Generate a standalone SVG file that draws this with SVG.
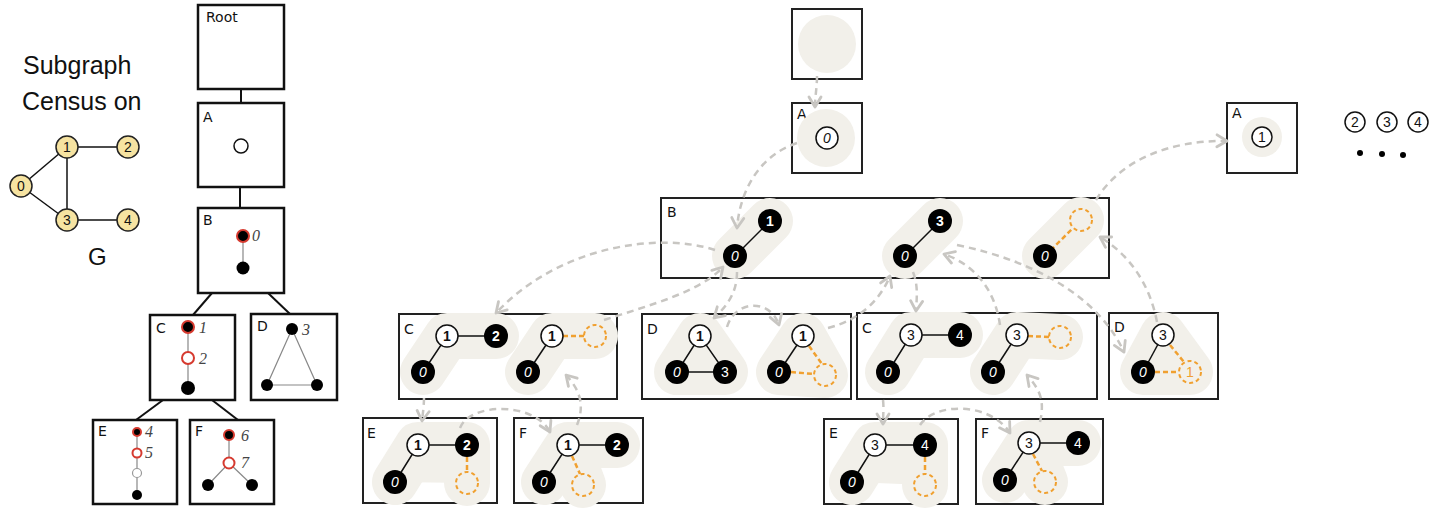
<svg xmlns="http://www.w3.org/2000/svg" width="1435" height="512" viewBox="0 0 1435 512">
<style>
.hand{font-family:"Liberation Sans",sans-serif;fill:#111}
.tbox{fill:#fff;stroke:#111;stroke-width:2.5}
.box{fill:none;stroke:#222;stroke-width:2}
.tline{stroke:#111;stroke-width:2;fill:none}
.gline{stroke:#888;stroke-width:1.2;fill:none}
.blob{fill:#f2f0ea;stroke:#f2f0ea;stroke-width:46;stroke-linecap:round;stroke-linejoin:round}
.edge{stroke:#111;stroke-width:1.5;fill:none}
.oedge{stroke:#f0a030;stroke-width:2.5;stroke-dasharray:5 3;fill:none}
.hn{fill:#fff;stroke:#111;stroke-width:1.5}
.bn{fill:#000}
.on{fill:#f2f0ea;stroke:#f0a030;stroke-width:2;stroke-dasharray:4 3}
.nl{font-family:"Liberation Sans",sans-serif;font-size:14px;font-weight:bold;text-anchor:middle;fill:#111}
.w{fill:#fff}
.it{font-style:italic;font-weight:normal}
.th{font-weight:normal}
.lbl{font-family:"DejaVu Sans","Liberation Sans",sans-serif;font-size:14px;fill:#111}
.ital{font-family:"Liberation Serif",serif;font-style:italic;font-size:16px;fill:#444}
.yn{fill:#f6e3a1;stroke:#222;stroke-width:1.5}
.rb{fill:#000;stroke:#d63a2f;stroke-width:2}
.rh{fill:#fff;stroke:#d63a2f;stroke-width:2}
.conn{fill:none;stroke:#c8c6c2;stroke-width:2.5;stroke-dasharray:7 5;marker-end:url(#ah)}
</style>
<defs>
<marker id="ah" viewBox="0 0 16 16" refX="13" refY="8" markerWidth="16" markerHeight="16" markerUnits="userSpaceOnUse" orient="auto">
<path d="M3,2 L13,8 L3,14" fill="none" stroke="#c8c6c2" stroke-width="2.8" stroke-linecap="round" stroke-linejoin="round"/>
</marker>
</defs>
<rect width="1435" height="512" fill="#fff"/>

<!-- Left: graph G -->
<g id="title">
<text class="hand" x="23" y="74" font-size="25">Subgraph</text>
<text class="hand" x="22" y="110" font-size="25">Census on</text>
</g>
<g id="graphG">
<line class="edge" x1="21" y1="186" x2="67" y2="147"/>
<line class="edge" x1="21" y1="186" x2="67" y2="220"/>
<line class="edge" x1="67" y1="147" x2="67" y2="220"/>
<line class="edge" x1="67" y1="147" x2="128" y2="147"/>
<line class="edge" x1="67" y1="220" x2="128" y2="220"/>
<circle class="yn" cx="21" cy="186" r="11"/><text class="nl th" x="21" y="191">0</text>
<circle class="yn" cx="67" cy="147" r="11"/><text class="nl th" x="67" y="152">1</text>
<circle class="yn" cx="128" cy="147" r="11"/><text class="nl th" x="128" y="152">2</text>
<circle class="yn" cx="67" cy="220" r="11"/><text class="nl th" x="67" y="225">3</text>
<circle class="yn" cx="128" cy="220" r="11"/><text class="nl th" x="128" y="225">4</text>
<text class="hand" x="88" y="265" font-size="24">G</text>
</g>

<!-- Tree -->
<g id="tree-links">
<line class="tline" x1="241" y1="89" x2="241" y2="103"/>
<line class="tline" x1="240" y1="187" x2="240" y2="208"/>
<line class="tline" x1="212" y1="293" x2="193" y2="315"/>
<line class="tline" x1="268" y1="293" x2="290" y2="314"/>
<line class="tline" x1="163" y1="400" x2="136" y2="420"/>
<line class="tline" x1="212" y1="400" x2="238" y2="420"/>
</g>
<g id="t-root"><rect class="tbox" x="198" y="5" width="86" height="84"/><text class="lbl" x="206" y="22" font-size="11">Root</text></g>
<g id="t-A"><rect class="tbox" x="198" y="103" width="86" height="84"/><text class="lbl" x="203" y="122">A</text><circle cx="241" cy="146" r="7" fill="#fff" stroke="#111" stroke-width="1.5"/></g>
<g id="t-B"><rect class="tbox" x="198" y="208" width="86" height="85"/><text class="lbl" x="203" y="225">B</text>
<line class="gline" x1="243" y1="236" x2="243" y2="268"/>
<circle class="rb" cx="243" cy="236" r="6"/><circle class="bn" cx="243" cy="268" r="6.5"/>
<text class="ital" x="252" y="241">0</text></g>
<g id="t-C"><rect class="tbox" x="150" y="315" width="85" height="85"/><text class="lbl" x="156" y="333">C</text>
<line class="gline" x1="188" y1="327" x2="188" y2="388"/>
<circle class="rb" cx="188" cy="327" r="6"/><circle class="rh" cx="188" cy="358" r="6"/><circle class="bn" cx="188" cy="388" r="7"/>
<text class="ital" x="199" y="333">1</text><text class="ital" x="199" y="364">2</text></g>
<g id="t-D"><rect class="tbox" x="251" y="314" width="86" height="86"/><text class="lbl" x="257" y="331">D</text>
<polygon points="292,329 267,385 317,385" fill="none" stroke="#888" stroke-width="1.2"/>
<circle class="bn" cx="292" cy="329" r="6"/><circle class="bn" cx="267" cy="385" r="6"/><circle class="bn" cx="317" cy="385" r="6"/>
<text class="ital" x="302" y="335">3</text></g>
<g id="t-E"><rect class="tbox" x="93" y="420" width="84" height="84"/><text class="lbl" x="98" y="436">E</text>
<line class="gline" x1="137" y1="432" x2="137" y2="495"/>
<circle class="rb" cx="137" cy="432" r="4"/><circle class="rh" cx="137" cy="453" r="4.5"/><circle cx="137" cy="473" r="4.5" fill="#fff" stroke="#999" stroke-width="1.2"/><circle class="bn" cx="137" cy="495" r="5"/>
<text class="ital" x="145" y="437" font-size="13">4</text><text class="ital" x="145" y="458" font-size="13">5</text></g>
<g id="t-F"><rect class="tbox" x="190" y="420" width="84" height="84"/><text class="lbl" x="195" y="436">F</text>
<polyline class="gline" points="229,435 229,463 208,485"/><line class="gline" x1="229" y1="463" x2="252" y2="485"/>
<circle class="rb" cx="229" cy="435" r="5"/><circle class="rh" cx="229" cy="463" r="5.5"/><circle class="bn" cx="208" cy="485" r="6"/><circle class="bn" cx="252" cy="485" r="6"/>
<text class="ital" x="241" y="441">6</text><text class="ital" x="241" y="468">7</text></g>

<!-- Right: enumeration -->
<g id="r-root"><rect class="box" x="792" y="9" width="70" height="70"/><circle cx="827" cy="44" r="29" fill="#f2f0ea"/></g>
<g id="r-A0"><rect class="box" x="792" y="103" width="70" height="70"/><text class="lbl" x="797" y="119" font-size="13">A</text>
<circle cx="826" cy="138" r="29" fill="#f2f0ea"/><circle class="hn" cx="827" cy="138" r="11"/><text class="nl it" x="827" y="143">0</text></g>

<g id="r-B"><rect class="box" x="661" y="198" width="448" height="80"/><text class="lbl" x="667" y="217" font-size="15">B</text>
<line class="blob" x1="735" y1="256" x2="770" y2="221"/>
<line class="edge" x1="735" y1="256" x2="770" y2="221"/>
<circle class="bn" cx="735" cy="256" r="12"/><text class="nl w it" x="735" y="261">0</text>
<circle class="bn" cx="770" cy="221" r="12"/><text class="nl w" x="770" y="226">1</text>
<line class="blob" x1="905" y1="256" x2="940" y2="221"/>
<line class="edge" x1="905" y1="256" x2="940" y2="221"/>
<circle class="bn" cx="905" cy="256" r="12"/><text class="nl w it" x="905" y="261">0</text>
<circle class="bn" cx="940" cy="221" r="12"/><text class="nl w" x="940" y="226">3</text>
<line class="blob" x1="1045" y1="256" x2="1081" y2="220"/>
<line class="oedge" x1="1045" y1="256" x2="1073" y2="228"/>
<circle class="bn" cx="1045" cy="256" r="12"/><text class="nl w it" x="1045" y="261">0</text>
<circle class="on" cx="1081" cy="220" r="11"/>
</g>

<g id="r-C1"><rect class="box" x="399" y="314" width="218" height="85"/><text class="lbl" x="404" y="334" font-size="17">C</text>
<polyline class="blob" points="423,372 447,336 496,336"/>
<polyline class="blob" points="528,372 552,336 595,336"/>
<polyline class="edge" points="423,372 447,336 496,336"/>
<line class="edge" x1="528" y1="372" x2="552" y2="336"/>
<line class="oedge" x1="563" y1="336" x2="584" y2="336"/>
<circle class="hn" cx="447" cy="336" r="11"/><text class="nl" x="447" y="341">1</text>
<circle class="bn" cx="496" cy="336" r="12"/><text class="nl w" x="496" y="341">2</text>
<circle class="bn" cx="423" cy="372" r="12"/><text class="nl w it" x="423" y="377">0</text>
<circle class="hn" cx="552" cy="336" r="11"/><text class="nl" x="552" y="341">1</text>
<circle class="on" cx="595" cy="336" r="11"/>
<circle class="bn" cx="528" cy="372" r="12"/><text class="nl w it" x="528" y="377">0</text>
</g>

<g id="r-D1"><rect class="box" x="642" y="314" width="209" height="85"/><text class="lbl" x="647" y="334" font-size="17">D</text>
<polygon class="blob" points="700,336 677,372 725,372"/>
<polygon class="blob" points="803,336 779,372 825,375"/>
<polygon class="edge" points="700,336 677,372 725,372"/>
<line class="edge" x1="779" y1="372" x2="803" y2="336"/>
<polyline class="oedge" points="809,346 822,364"/>
<line class="oedge" x1="791" y1="372" x2="814" y2="374"/>
<circle class="hn" cx="700" cy="336" r="11"/><text class="nl" x="700" y="341">1</text>
<circle class="bn" cx="677" cy="372" r="12"/><text class="nl w it" x="677" y="377">0</text>
<circle class="bn" cx="725" cy="372" r="12"/><text class="nl w th" x="725" y="377">3</text>
<circle class="hn" cx="803" cy="336" r="11"/><text class="nl" x="803" y="341">1</text>
<circle class="bn" cx="779" cy="372" r="12"/><text class="nl w it" x="779" y="377">0</text>
<circle class="on" cx="825" cy="375" r="11"/>
</g>

<g id="r-C3"><rect class="box" x="857" y="313" width="240" height="86"/><text class="lbl" x="862" y="333" font-size="17">C</text>
<polyline class="blob" points="888,372 911,335 960,335"/>
<polyline class="blob" points="993,372 1017,335 1060,337"/>
<polyline class="edge" points="888,372 911,335 960,335"/>
<line class="edge" x1="993" y1="372" x2="1017" y2="335"/>
<line class="oedge" x1="1028" y1="336" x2="1049" y2="337"/>
<circle class="hn" cx="911" cy="335" r="11"/><text class="nl th" x="911" y="340">3</text>
<circle class="bn" cx="960" cy="335" r="12"/><text class="nl w th" x="960" y="340">4</text>
<circle class="bn" cx="888" cy="372" r="12"/><text class="nl w it" x="888" y="377">0</text>
<circle class="hn" cx="1017" cy="335" r="11"/><text class="nl th" x="1017" y="340">3</text>
<circle class="on" cx="1060" cy="337" r="11"/>
<circle class="bn" cx="993" cy="372" r="12"/><text class="nl w it" x="993" y="377">0</text>
</g>

<g id="r-D3"><rect class="box" x="1109" y="313" width="109" height="86"/><text class="lbl" x="1114" y="332" font-size="17">D</text>
<polygon class="blob" points="1163,335 1143,372 1190,372"/>
<line class="edge" x1="1143" y1="372" x2="1163" y2="335"/>
<line class="oedge" x1="1170" y1="345" x2="1184" y2="362"/>
<line class="oedge" x1="1155" y1="372" x2="1179" y2="372"/>
<circle class="hn" cx="1163" cy="335" r="11"/><text class="nl th" x="1163" y="340">3</text>
<circle class="bn" cx="1143" cy="372" r="12"/><text class="nl w it" x="1143" y="377">0</text>
<circle class="on" cx="1190" cy="372" r="11"/><text class="nl th" x="1190" y="377" style="fill:#f0a030">1</text>
</g>

<g id="r-E1"><rect class="box" x="363" y="418" width="134" height="85"/><text class="lbl" x="367" y="438" font-size="15">E</text>
<polyline class="blob" points="395,482 418,445 467,445 467,483"/>
<polyline class="edge" points="395,482 418,445 467,445"/>
<line class="oedge" x1="467" y1="457" x2="467" y2="472"/>
<circle class="hn" cx="418" cy="445" r="11"/><text class="nl" x="418" y="450">1</text>
<circle class="bn" cx="467" cy="445" r="12"/><text class="nl w" x="467" y="450">2</text>
<circle class="bn" cx="395" cy="482" r="12"/><text class="nl w it" x="395" y="487">0</text>
<circle class="on" cx="467" cy="483" r="11"/>
</g>

<g id="r-F1"><rect class="box" x="514" y="418" width="129" height="85"/><text class="lbl" x="519" y="438" font-size="15">F</text>
<path class="blob" d="M544,482 L568,445 L617,445 M568,445 L583,485" fill="none"/>
<polyline class="edge" points="544,482 568,445 617,445"/>
<line class="oedge" x1="572" y1="456" x2="580" y2="474"/>
<circle class="hn" cx="568" cy="445" r="11"/><text class="nl" x="568" y="450">1</text>
<circle class="bn" cx="617" cy="445" r="12"/><text class="nl w" x="617" y="450">2</text>
<circle class="bn" cx="544" cy="482" r="12"/><text class="nl w it" x="544" y="487">0</text>
<circle class="on" cx="583" cy="485" r="11"/>
</g>

<g id="r-E3"><rect class="box" x="824" y="419" width="134" height="85"/><text class="lbl" x="829" y="438" font-size="15">E</text>
<polyline class="blob" points="852,482 875,445 925,445 925,485"/>
<polyline class="edge" points="852,482 875,445 925,445"/>
<line class="oedge" x1="925" y1="457" x2="925" y2="474"/>
<circle class="hn" cx="875" cy="445" r="11"/><text class="nl th" x="875" y="450">3</text>
<circle class="bn" cx="925" cy="445" r="12"/><text class="nl w th" x="925" y="450">4</text>
<circle class="bn" cx="852" cy="482" r="12"/><text class="nl w it" x="852" y="487">0</text>
<circle class="on" cx="925" cy="485" r="11"/>
</g>

<g id="r-F3"><rect class="box" x="976" y="419" width="127" height="85"/><text class="lbl" x="981" y="438" font-size="15">F</text>
<path class="blob" d="M1005,480 L1029,443 L1078,443 M1029,443 L1045,482" fill="none"/>
<polyline class="edge" points="1005,480 1029,443 1078,443"/>
<line class="oedge" x1="1033" y1="454" x2="1042" y2="471"/>
<circle class="hn" cx="1029" cy="443" r="11"/><text class="nl th" x="1029" y="448">3</text>
<circle class="bn" cx="1078" cy="443" r="12"/><text class="nl w th" x="1078" y="448">4</text>
<circle class="bn" cx="1005" cy="480" r="12"/><text class="nl w it" x="1005" y="485">0</text>
<circle class="on" cx="1045" cy="482" r="11"/>
</g>

<g id="r-A1"><rect class="box" x="1227" y="103" width="70" height="70"/><text class="lbl" x="1232" y="118" font-size="13">A</text>
<circle cx="1262" cy="137" r="20" fill="#f2f0ea"/><circle class="hn" cx="1262" cy="137" r="10"/><text class="nl th" x="1262" y="142">1</text></g>

<g id="more">
<circle class="hn" cx="1355" cy="122" r="10"/><text class="nl th" x="1355" y="127">2</text>
<circle class="hn" cx="1387" cy="122" r="10"/><text class="nl th" x="1387" y="127">3</text>
<circle class="hn" cx="1418" cy="122" r="10"/><text class="nl th" x="1418" y="127">4</text>
<circle class="bn" cx="1360" cy="153" r="3"/><circle class="bn" cx="1382" cy="154" r="3"/><circle class="bn" cx="1403" cy="155" r="3"/>
</g>

<g id="connectors">
<path class="conn" d="M817,76 C817,88 815,96 815,107"/>
<path class="conn" d="M797,143 C760,155 740,190 737,228"/>
<path class="conn" d="M715,250 C660,232 560,245 496,313"/>
<path class="conn" d="M604,320 C650,305 700,292 723,267"/>
<path class="conn" d="M737,272 C737,292 728,305 714,318"/>
<path class="conn" d="M727,327 C735,300 770,298 779,325"/>
<path class="conn" d="M828,328 C860,320 880,300 890,276"/>
<path class="conn" d="M913,272 C918,285 917,295 916,311"/>
<path class="conn" d="M1000,325 C995,290 975,265 944,254"/>
<path class="conn" d="M957,245 C1040,262 1100,300 1124,352"/>
<path class="conn" d="M1157,322 C1150,285 1130,255 1100,237"/>
<path class="conn" d="M1096,200 C1120,160 1170,140 1227,141"/>
<path class="conn" d="M424,398 C424,405 423,412 422,421"/>
<path class="conn" d="M460,428 C470,402 535,402 550,432"/>
<path class="conn" d="M577,425 C585,405 580,390 566,375"/>
<path class="conn" d="M883,400 C884,408 883,415 883,424"/>
<path class="conn" d="M920,425 C935,402 990,402 1010,433"/>
<path class="conn" d="M1040,422 C1045,400 1040,390 1027,375"/>
</g>
</svg>
